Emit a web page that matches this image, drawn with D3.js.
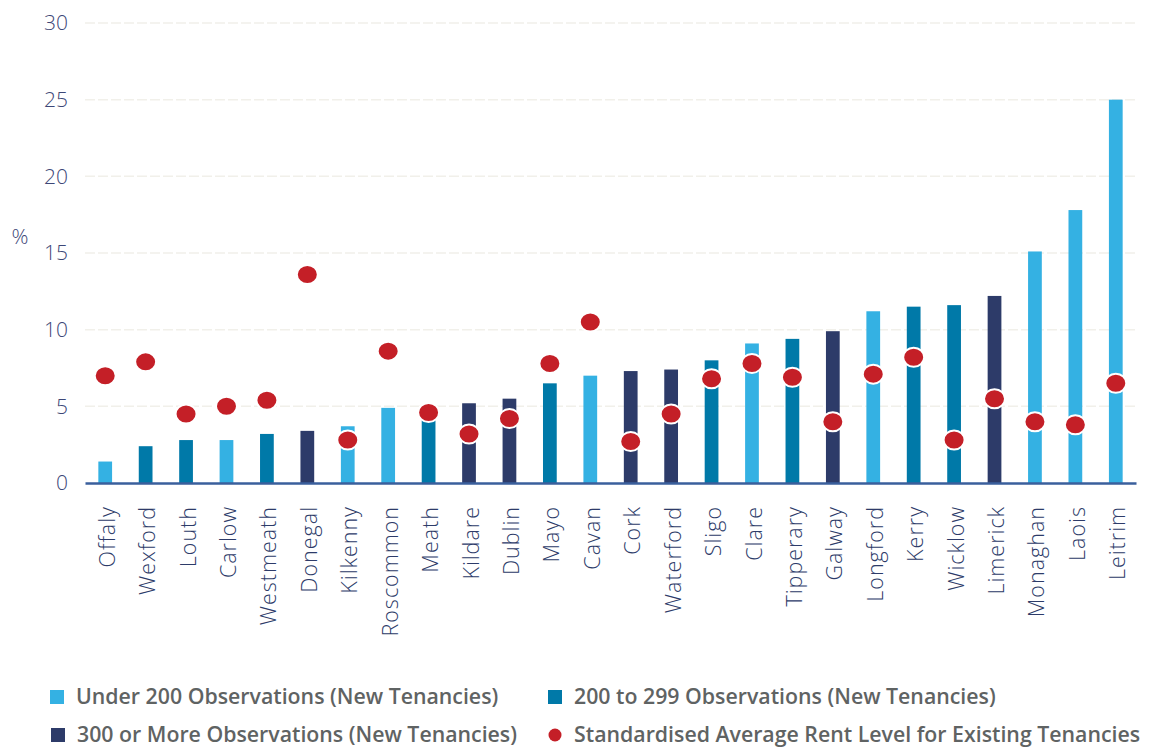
<!DOCTYPE html>
<html><head><meta charset="utf-8">
<script src="https://cdn.jsdelivr.net/npm/d3@7"></script>
<style>
html,body{margin:0;padding:0;background:#fff;}
svg{display:block;}
</style></head>
<body>
<svg id="chart" width="1151" height="749"></svg>
<script>
const categories = ["Offaly","Wexford","Louth","Carlow","Westmeath","Donegal","Kilkenny","Roscommon","Meath","Kildare","Dublin","Mayo","Cavan","Cork","Waterford","Sligo","Clare","Tipperary","Galway","Longford","Kerry","Wicklow","Limerick","Monaghan","Laois","Leitrim"];
const newTenancies = [1.4,2.4,2.8,2.8,3.2,3.4,3.7,4.9,4.4,5.2,5.5,6.5,7.0,7.3,7.4,8.0,9.1,9.4,9.9,11.2,11.5,11.6,12.2,15.1,17.8,25.0];
const obsGroup = [0,1,1,0,1,2,0,0,1,2,2,1,0,2,2,1,0,1,2,0,1,1,2,0,0,0];
const existingTenancies = [7.0,7.9,4.5,5.0,5.4,13.6,2.8,8.6,4.6,3.2,4.2,7.8,10.5,2.7,4.5,6.8,7.8,6.9,4.0,7.1,8.2,2.8,5.5,4.0,3.8,6.5];
const yTicks = [0,5,10,15,20,25,30];
const groupLabels = ["Under 200 Observations (New Tenancies)","200 to 299 Observations (New Tenancies)","300 or More Observations (New Tenancies)"];
const dotLabel = "Standardised Average Rent Level for Existing Tenancies";
const groupColors = ["#34b1e3","#0079a8","#2d3b69"];
const dotColor = "#c41f27";

const svg = d3.select("#chart");
const x = d3.scaleBand().domain(categories).range([85,1136]).paddingInner(0.66).paddingOuter(0.33);
const y = d3.scaleLinear().domain([0,30]).range([483,23]);

// gridlines
svg.append("g").selectAll("line").data(yTicks.filter(d=>d>0)).join("line")
  .attr("x1",85).attr("x2",1136)
  .attr("y1",d=>y(d)).attr("y2",d=>y(d))
  .attr("stroke","#f1f0ea").attr("stroke-width",1.5).attr("stroke-dasharray","10,3");

// y axis labels
const yAxis = d3.axisLeft(y).tickValues(yTicks).tickSize(0).tickPadding(0);
const yg = svg.append("g").attr("transform","translate(68,0)").call(yAxis);
yg.select(".domain").remove();
yg.selectAll("text").attr("font-family","'Open Sans', sans-serif").attr("font-weight",300)
  .attr("font-size","21px").attr("fill","#3d4777");

svg.append("text").attr("x",20).attr("y",244).attr("text-anchor","middle")
  .attr("font-family","'Open Sans', sans-serif").attr("font-weight",300)
  .attr("font-size","21px").attr("fill","#3d4777").text("%");

// bars
svg.append("g").selectAll("rect").data(categories).join("rect")
  .attr("x",d=>x(d)).attr("width",x.bandwidth())
  .attr("y",(d,i)=>y(newTenancies[i])).attr("height",(d,i)=>y(0)-y(newTenancies[i]))
  .attr("fill",(d,i)=>groupColors[obsGroup[i]]);

// baseline axis
const xAxis = d3.axisBottom(x).tickSize(0).tickPadding(0);
const xg = svg.append("g").attr("transform","translate(0,483)").call(xAxis);
xg.select(".domain").attr("stroke","#3a5f9c").attr("stroke-width",2.5);
xg.selectAll("text").attr("font-family","'Open Sans', sans-serif").attr("font-weight",300)
  .attr("font-size","21.5px").attr("letter-spacing","1px").attr("fill","#2d3b69")
  .attr("transform","rotate(-90)").attr("text-anchor","end")
  .attr("x",-23).attr("y",2).attr("dy","0.35em");

// dots
svg.append("g").selectAll("ellipse").data(categories).join("ellipse")
  .attr("cx",d=>x(d)+x.bandwidth()/2).attr("cy",(d,i)=>y(existingTenancies[i]))
  .attr("rx",10.5).attr("ry",9.5)
  .attr("fill",dotColor).attr("stroke","#fff").attr("stroke-width",2);

// legend
const legend = svg.append("g").attr("font-family","'Open Sans', sans-serif").attr("font-weight",600)
  .attr("font-size","21.3px").attr("fill","#5f6363");
const items = [
  {lab:groupLabels[0], col:groupColors[0], x:50, y:697, type:"sq"},
  {lab:groupLabels[1], col:groupColors[1], x:548, y:697, type:"sq"},
  {lab:groupLabels[2], col:groupColors[2], x:51, y:735, type:"sq"},
  {lab:dotLabel, col:dotColor, x:548, y:735, type:"dot"}
];
items.forEach(it=>{
  if(it.type==="sq"){
    legend.append("rect").attr("x",it.x).attr("y",it.y-7).attr("width",14).attr("height",14).attr("fill",it.col);
  } else {
    legend.append("circle").attr("cx",it.x+7).attr("cy",it.y).attr("r",6.5).attr("fill",it.col);
  }
  legend.append("text").attr("x",it.x+26).attr("y",it.y).attr("dy","0.35em").text(it.lab);
});
</script>
</body></html>
